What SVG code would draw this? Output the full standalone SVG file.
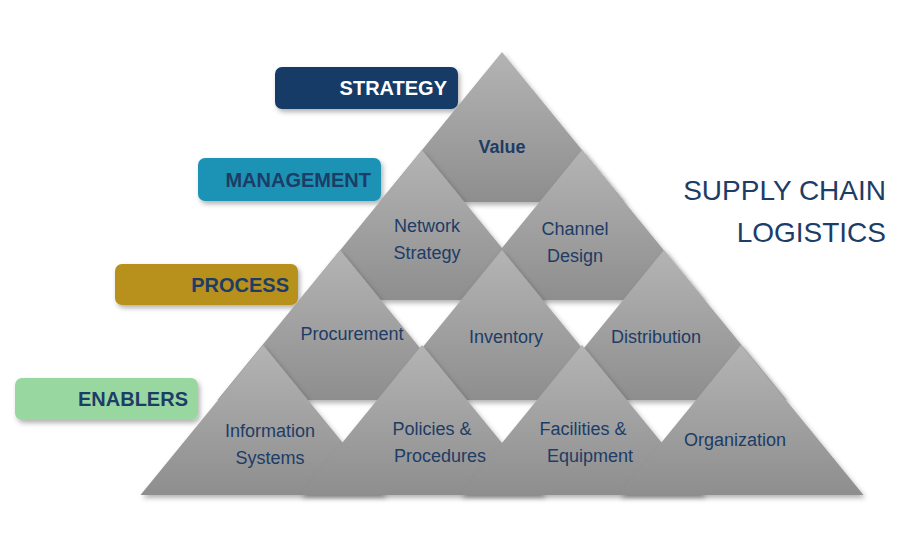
<svg xmlns="http://www.w3.org/2000/svg" width="900" height="555" viewBox="0 0 900 555">
<defs>
<linearGradient id="g" x1="0" y1="0" x2="0" y2="1"><stop offset="0" stop-color="#b4b4b4"/><stop offset="1" stop-color="#8e8e8e"/></linearGradient>
<filter id="sh" x="-20%" y="-20%" width="140%" height="150%"><feDropShadow dx="2" dy="3" stdDeviation="2.5" flood-color="#000" flood-opacity="0.3"/></filter>
</defs>
<style>
.t{fill:url(#g);filter:url(#sh)}
.n{font-family:"Liberation Sans",Arial,sans-serif;font-size:18px;fill:#1d3c66;text-anchor:middle}
.b{font-family:"Liberation Sans",Arial,sans-serif;font-size:20px;font-weight:bold;text-anchor:end}
.ti{font-family:"Liberation Sans",Arial,sans-serif;font-size:28px;fill:#1d3c66;text-anchor:end}
</style>
<rect width="900" height="555" fill="#fff"/>
<g id="labels">
<g id="strategy"><rect x="275" y="67" width="183" height="42" rx="7" fill="#123a66" filter="url(#sh)"/><text class="b" x="447" y="95" fill="#fff">STRATEGY</text></g>
<g id="management"><rect x="198" y="158" width="183" height="43" rx="7" fill="#1e93b5" filter="url(#sh)"/><text class="b" x="371" y="187" fill="#1d3c66">MANAGEMENT</text></g>
<g id="process"><rect x="115" y="264" width="183" height="41" rx="7" fill="#b8901a" filter="url(#sh)"/><text class="b" x="289" y="292" fill="#1d3c66">PROCESS</text></g>
<g id="enablers"><rect x="15" y="378" width="183" height="42" rx="7" fill="#98d8a0" filter="url(#sh)"/><text class="b" x="188" y="406" fill="#1d3c66">ENABLERS</text></g>
</g>
<g id="row1">
<g id="value"><polygon class="t" points="502,52 624.5,202 379.5,202"/><text class="n" x="502" y="153" font-weight="bold">Value</text></g>
</g>
<g id="row2">
<g id="network"><polygon class="t" points="422,150 544.5,300 299.5,300"/><text class="n" x="427" y="232">Network</text><text class="n" x="427" y="259">Strategy</text></g>
<g id="channel"><polygon class="t" points="582,150 704.5,300 459.5,300"/><text class="n" x="575" y="235">Channel</text><text class="n" x="575" y="262">Design</text></g>
</g>
<g id="row3">
<g id="procurement"><polygon class="t" points="340,250 462.5,400 217.5,400"/><text class="n" x="352" y="340">Procurement</text></g>
<g id="inventory"><polygon class="t" points="502,250 624.5,400 379.5,400"/><text class="n" x="506" y="343">Inventory</text></g>
<g id="distribution"><polygon class="t" points="664,250 786.5,400 541.5,400"/><text class="n" x="656" y="343">Distribution</text></g>
</g>
<g id="row4">
<g id="info"><polygon class="t" points="263,345 385.5,495 140.5,495"/><text class="n" x="270" y="437">Information</text><text class="n" x="270" y="464">Systems</text></g>
<g id="policies"><polygon class="t" points="422,345 544.5,495 299.5,495"/><text class="n" x="432" y="435">Policies &amp;</text><text class="n" x="440" y="462">Procedures</text></g>
<g id="facilities"><polygon class="t" points="582,345 704.5,495 459.5,495"/><text class="n" x="583" y="435">Facilities &amp;</text><text class="n" x="590" y="462">Equipment</text></g>
<g id="organization"><polygon class="t" points="741,345 863.5,495 618.5,495"/><text class="n" x="735" y="446">Organization</text></g>
</g>
<g id="connectors"/>
<g id="title"><text class="ti" x="886" y="200">SUPPLY CHAIN</text><text class="ti" x="886" y="242">LOGISTICS</text></g>
</svg>
